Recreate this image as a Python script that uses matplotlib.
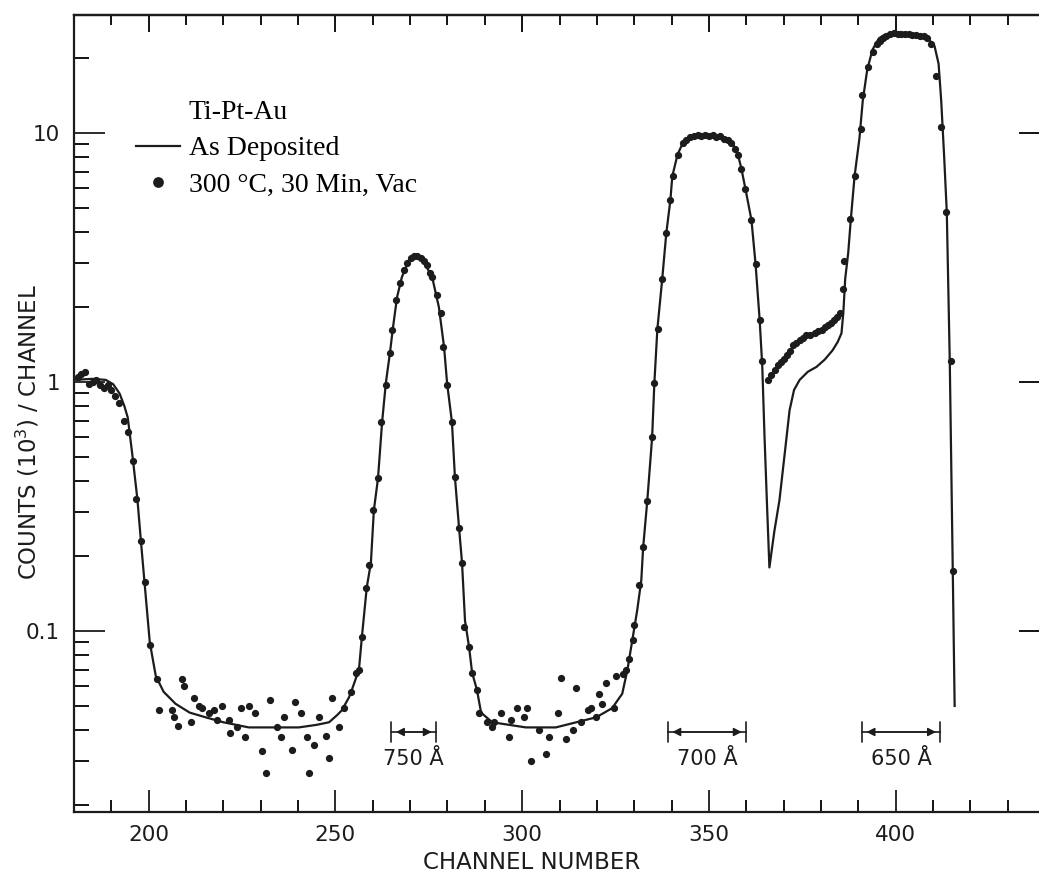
import matplotlib
matplotlib.use("Agg")
import matplotlib.pyplot as plt
from matplotlib.lines import Line2D
from matplotlib.ticker import FixedLocator, MultipleLocator, LogLocator, NullFormatter, FixedFormatter

# ---- data ----
# as deposited (solid line)
line_ch = [180, 185, 188.5, 190.5, 192.2, 193.5, 194.4, 195.7, 197.0, 197.9, 198.9, 200.3,
           201.9, 204.0, 207.2, 211.0, 215.3, 220.0, 226.8, 240.2, 245.0, 248.3, 250.5,
           251.7, 253.6, 254.4, 256.3, 257.1, 258.4, 259.5, 260.3, 261.4, 262.5, 263.5,
           264.6, 265.4, 266.5, 267.8, 269.7, 271.6, 273.7, 275.9, 277.7, 279.1, 279.9,
           281.2, 282.0, 283.1, 283.9, 284.7, 285.8, 286.6, 287.9, 289.0, 292.0, 301.0,
           309.0, 314.5, 319.8, 324.1, 326.8, 328.2, 329.5, 330.8, 331.9, 332.4, 333.5,
           334.8, 335.4, 336.2, 337.5, 338.6, 339.7, 340.2, 341.6, 343.0, 344.5, 349.3,
           354.7, 356.5, 357.6, 358.7, 359.8, 361.4, 362.5, 363.6, 364.3, 364.9, 365.5,
           366.2, 367.5, 368.9, 370.2, 371.6, 372.8, 374.3, 376.5, 378.8, 381.0, 383.1,
           384.5, 385.5, 386.0, 386.5, 387.3, 388.0, 389.0, 390.3, 391.2, 392.4, 393.8,
           395.5, 397.0, 400.3, 405.0, 408.3, 410.4, 411.5, 412.2, 413.0, 413.7, 414.5,
           415.3, 415.8]
line_val = [1.02, 1.03, 1.02, 0.98, 0.90, 0.80, 0.72, 0.50, 0.336, 0.232, 0.156, 0.090,
            0.066, 0.057, 0.051, 0.047, 0.045, 0.043, 0.041, 0.041, 0.042, 0.043, 0.046,
            0.048, 0.054, 0.058, 0.070, 0.095, 0.150, 0.188, 0.306, 0.41, 0.69, 0.99,
            1.31, 1.65, 2.19, 2.64, 3.09, 3.24, 3.03, 2.64, 2.0, 1.38, 0.99,
            0.69, 0.415, 0.26, 0.188, 0.11, 0.086, 0.068, 0.058, 0.047, 0.043, 0.041,
            0.041, 0.043, 0.045, 0.049, 0.056, 0.070, 0.092, 0.121, 0.16, 0.217, 0.333,
            0.60, 0.99, 1.63, 2.59, 3.97, 5.4, 6.7, 8.2, 9.1, 9.5, 9.7,
            9.5, 9.0, 8.4, 7.2, 5.95, 4.47, 2.97, 1.77, 1.15, 0.60, 0.34,
            0.18, 0.25, 0.336, 0.50, 0.77, 0.93, 1.02, 1.10, 1.15, 1.23, 1.34,
            1.45, 1.57, 1.90, 2.6, 3.3, 4.5, 6.7, 9.5, 13.5, 18.0, 21.6,
            24.0, 24.8, 25.0, 24.8, 24.3, 22.4, 19.0, 13.5, 8.0, 4.8, 1.20,
            0.174, 0.05]

# 300 C, 30 min, vac (dots), by region
plateau_ch = [181, 182, 183, 184, 185, 186, 187, 188, 189, 190, 191, 192, 193.5, 194.4,
              195.7, 196.5, 197.9, 198.9, 200.3]
plateau_val = [1.05, 1.08, 1.10, 0.98, 1.0, 1.02, 0.97, 0.95, 0.97, 0.93, 0.88, 0.82, 0.70,
               0.63, 0.48, 0.34, 0.23, 0.157, 0.088]

floor1_ch = [202.2, 202.7, 206.3, 206.8, 207.9, 208.9, 209.4, 211.2, 212.1, 213.4, 214.3,
             216.1, 217.4, 218.3, 219.7, 221.4, 221.9, 223.7, 224.6, 225.9, 226.8, 228.6,
             230.4, 231.3, 232.6, 234.4, 235.3, 236.2, 238.4, 239.3, 240.7, 242.4, 242.9,
             244.2, 245.6, 247.4, 248.3, 249.0, 250.9]
floor1_val = [0.064, 0.048, 0.048, 0.045, 0.0415, 0.064, 0.060, 0.043, 0.054, 0.050, 0.049,
              0.047, 0.048, 0.044, 0.050, 0.044, 0.039, 0.041, 0.049, 0.0375, 0.050, 0.047,
              0.033, 0.027, 0.053, 0.041, 0.0375, 0.045, 0.0334, 0.052, 0.047, 0.0375, 0.027,
              0.035, 0.045, 0.038, 0.031, 0.054, 0.041]

peak1_ch = [252.3, 254.1, 255.4, 256.3, 257.2, 258.1, 259.0, 260.1, 261.5, 262.1, 263.5,
            264.5, 265.2, 266.1, 267.2, 268.4, 269.3, 270.2, 271.0, 271.9, 272.8, 273.6,
            274.5, 275.4, 275.9, 277.3, 278.2, 278.9, 280.0, 281.1, 282.0, 283.1, 283.8,
            284.5, 285.8, 286.7, 287.8]
peak1_val = [0.049, 0.057, 0.068, 0.070, 0.095, 0.149, 0.184, 0.306, 0.41, 0.69, 0.97,
             1.31, 1.62, 2.13, 2.50, 2.82, 3.0, 3.15, 3.2, 3.22, 3.15, 3.05,
             2.95, 2.75, 2.64, 2.23, 1.89, 1.38, 0.97, 0.69, 0.415, 0.26, 0.188,
             0.104, 0.086, 0.068, 0.058]

floor2_ch = [288.5, 290.7, 292.0, 292.5, 294.3, 296.5, 297.0, 298.7, 300.5, 301.4, 302.3,
             304.6, 306.3, 307.2, 309.5, 310.4, 311.7, 313.5, 314.4, 315.7, 317.5, 318.4,
             319.8, 320.6, 321.3, 322.4, 324.7, 325.1, 326.9, 327.8, 328.7, 329.6, 330.0,
             331.4]
floor2_val = [0.047, 0.043, 0.041, 0.043, 0.047, 0.0375, 0.044, 0.049, 0.045, 0.049, 0.030,
              0.040, 0.032, 0.0375, 0.047, 0.065, 0.037, 0.040, 0.059, 0.043, 0.048, 0.049,
              0.045, 0.056, 0.051, 0.062, 0.049, 0.066, 0.067, 0.070, 0.077, 0.092, 0.106,
              0.153]

peak2_ch = [332.4, 333.5, 334.9, 335.4, 336.3, 337.5, 338.6, 339.6, 340.3, 341.6, 343.0,
            344.0, 345.0, 346.0, 347.0, 348.0, 349.0, 350.0, 351.0, 352.0, 353.0, 354.0,
            355.0, 356.0, 357.0, 357.8, 358.7, 359.8, 361.4, 362.5, 363.6]
peak2_val = [0.217, 0.333, 0.60, 0.99, 1.63, 2.59, 3.97, 5.4, 6.7, 8.2, 9.1,
             9.4, 9.6, 9.7, 9.8, 9.7, 9.8, 9.7, 9.8, 9.6, 9.7, 9.5,
             9.4, 9.1, 8.6, 8.2, 7.2, 5.95, 4.47, 2.97, 1.77]

tail_ch = [364.2, 365.7, 366.6, 367.8, 368.6, 369.4, 370.1, 370.8, 371.6, 372.4, 373.3,
           374.3, 375.2, 376.1, 377.2, 378.3, 379.2, 380.2, 381.0, 381.8, 382.7, 383.6,
           384.3, 385.0]
tail_val = [1.22, 1.02, 1.07, 1.12, 1.17, 1.20, 1.24, 1.28, 1.33, 1.41, 1.44,
            1.47, 1.50, 1.54, 1.55, 1.57, 1.60, 1.62, 1.66, 1.69, 1.72, 1.77,
            1.82, 1.89]

peak3_ch = [385.9, 386.3, 387.7, 389.0, 390.8, 391.1, 392.6, 393.9, 395.0, 395.7, 396.5,
            397.5, 398.5, 399.5, 400.5, 401.5, 402.5, 403.5, 404.5, 405.5, 406.5, 407.5,
            408.5, 409.5, 410.9, 412.2, 413.6, 414.9, 415.3]
peak3_val = [2.36, 3.06, 4.5, 6.7, 10.4, 14.2, 18.4, 21.2, 22.8, 23.4, 24.2,
             24.6, 25.0, 25.2, 25.0, 25.1, 24.9, 25.0, 24.8, 24.8, 24.6, 24.5,
             24.0, 22.8, 17.0, 10.6, 4.8, 1.22, 0.174]

dot_ch = plateau_ch + floor1_ch + peak1_ch + floor2_ch + peak2_ch + tail_ch + peak3_ch
dot_val = plateau_val + floor1_val + peak1_val + floor2_val + peak2_val + tail_val + peak3_val

# layer thickness markers
thick_text = ["750 Å", "700 Å", "650 Å"]
thick_lo = [265, 339, 391]
thick_hi = [277, 360, 412]

ink = "#1c1c1c"
sans = "DejaVu Sans"
serif = "Liberation Serif"

fig = plt.figure(figsize=(10.39, 8.77), dpi=100)
ax = fig.add_axes([0.0712, 0.0741, 0.9346, 0.9088])

ln, = ax.plot(line_ch, line_val, color=ink, lw=1.6, label="As Deposited")
dots, = ax.plot(dot_ch, dot_val, "o", ms=4.2, color=ink, mec=ink, label="300 °C, 30 Min, Vac")

ax.set_yscale("log")
ax.set_xlim(180, 440)
ax.set_ylim(0.01875, 29.8)

# ticks
ax.xaxis.set_major_locator(FixedLocator([200, 250, 300, 350, 400]))
ax.xaxis.set_minor_locator(MultipleLocator(10))
ax.yaxis.set_major_locator(FixedLocator([0.1, 1, 10]))
ax.yaxis.set_major_formatter(FixedFormatter(["0.1", "1", "10"]))
ax.yaxis.set_minor_locator(LogLocator(base=10, subs=range(2, 10)))
ax.yaxis.set_minor_formatter(NullFormatter())
ax.tick_params(axis="x", which="major", direction="in", length=16, width=1.3, pad=9,
               labelsize=15.5, colors=ink)
ax.tick_params(axis="x", which="minor", direction="in", length=8.5, width=1.3)
ax.tick_params(axis="y", which="major", direction="in", length=22, width=1.3, pad=10,
               labelsize=15.5, colors=ink)
ax.tick_params(axis="y", which="minor", direction="in", length=11, width=1.3)
for lab in ax.get_xticklabels() + ax.get_yticklabels():
    lab.set_family(sans)

top = ax.secondary_xaxis("top")
top.xaxis.set_major_locator(FixedLocator([200, 250, 300, 350, 400]))
top.xaxis.set_minor_locator(MultipleLocator(10))
top.tick_params(which="major", direction="in", length=12, width=1.3, labeltop=False)
top.tick_params(which="minor", direction="in", length=7, width=1.3)
top.spines["top"].set_linewidth(1.6)

right = ax.secondary_yaxis("right")
right.yaxis.set_major_locator(FixedLocator([0.1, 1, 10]))
right.yaxis.set_minor_locator(FixedLocator([]))
right.tick_params(which="major", direction="in", length=19, width=1.3, labelright=False)

for s in ax.spines.values():
    s.set_linewidth(1.6)
    s.set_color(ink)

ax.set_xlabel("CHANNEL NUMBER", fontsize=16.5, family=sans, color=ink)
ax.xaxis.set_label_coords(0.471, -0.049)
ax.set_ylabel("COUNTS (10$^3$) / CHANNEL", fontsize=16.5, family=sans, color=ink)
ax.yaxis.set_label_coords(-0.034, 0.477)

# legend
blank = Line2D([], [], lw=0)
leg = ax.legend([blank, ln, dots], ["Ti-Pt-Au", "As Deposited", "300 °C, 30 Min, Vac"],
                loc="upper left", bbox_to_anchor=(136 / 1039, 1 - 100 / 877),
                bbox_transform=fig.transFigure, frameon=False, borderpad=0,
                borderaxespad=0, handlelength=1.6, handletextpad=0.3, labelspacing=0.38,
                markerscale=1.6, prop={"family": serif, "size": 20})

# thickness markers
for txt, lo, hi in zip(thick_text, thick_lo, thick_hi):
    ax.annotate("", xy=(lo, 0.0393), xytext=(hi, 0.0393),
                arrowprops=dict(arrowstyle="|-|,widthA=0.5,widthB=0.5", lw=1.2, color=ink,
                                shrinkA=0, shrinkB=0, mutation_scale=14))
    ax.annotate("", xy=(lo + 1.2, 0.0393), xytext=(hi - 1.2, 0.0393),
                arrowprops=dict(arrowstyle="<|-|>,head_length=0.35,head_width=0.18",
                                lw=1.0, color=ink, shrinkA=0, shrinkB=0, mutation_scale=14))
    ax.text((lo + hi) / 2, 0.0305, txt, ha="center", va="center", fontsize=15,
            family=sans, color=ink)

fig.savefig("out.png", dpi=100, facecolor="white")
